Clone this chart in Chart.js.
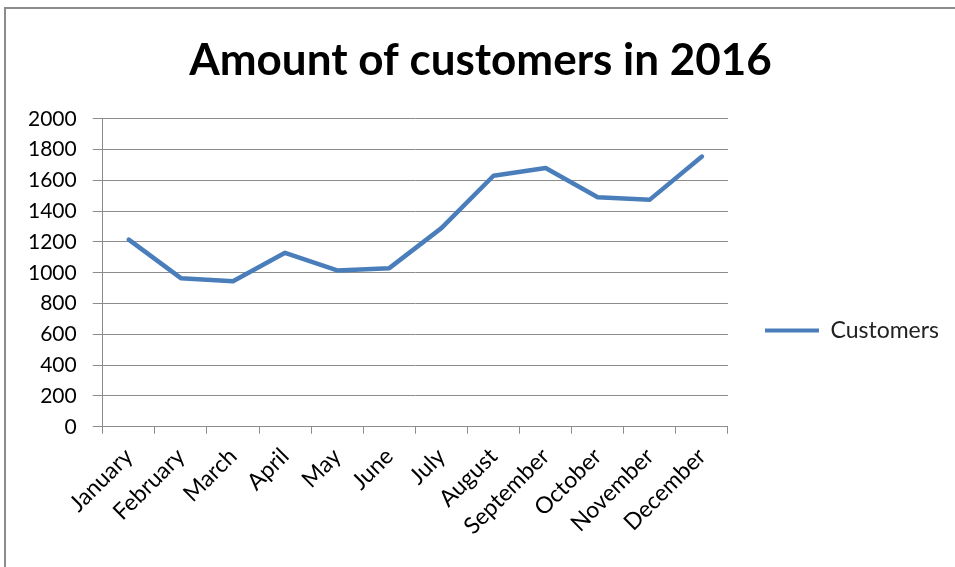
<!DOCTYPE html>
<html>
<head>
<meta charset="utf-8">
<script src="https://cdn.jsdelivr.net/npm/chart.js@4/dist/chart.umd.min.js"></script>
<style>
  html, body { margin: 0; padding: 0; background: #fff; }
  #wrap {
    position: absolute;
    left: 4px;
    top: 7px;
    width: 960px;
    height: 570px;
    border: 2px solid #8c8c8c;
  }
  #box { position: absolute; left: 0; top: 0; width: 955px; height: 567px; }
</style>
</head>
<body>
<div id="wrap"></div>
<div id="box"><canvas id="customersChart"></canvas></div>
<script>
const months = ["January", "February", "March", "April", "May", "June",
  "July", "August", "September", "October", "November", "December"];
const customers = [1215, 965, 945, 1130, 1015, 1030, 1290, 1630, 1680, 1490, 1475, 1755];
const seriesName = "Customers";
const chartTitle = "Amount of customers in 2016";
const yMin = 0;
const yMax = 2000;
const yStep = 200;

const lineBlue = "#4a7ebb";
const gridGrey = "#8c8c8c";
const fontFamily = "Lato, 'Open Sans', sans-serif";

// push the legend a bit lower than the plot centre
const legendDrop = {
  id: "legendDrop",
  afterLayout(chart) {
    const legend = chart.legend;
    if (!legend) return;
    legend.top += 56;
    legend.bottom += 56;
  }
};

const ctx = document.getElementById("customersChart").getContext("2d");

new Chart(ctx, {
  type: "line",
  data: {
    labels: months,
    datasets: [{
      label: seriesName,
      data: customers,
      borderColor: lineBlue,
      backgroundColor: lineBlue,
      borderWidth: 4.5,
      pointRadius: 0,
      tension: 0,
      borderCapStyle: "round",
      borderJoinStyle: "round"
    }]
  },
  plugins: [legendDrop],
  options: {
    responsive: true,
    maintainAspectRatio: false,
    animation: false,
    layout: {
      padding: { left: 12, right: 6, top: 0, bottom: 18 }
    },
    plugins: {
      title: {
        display: true,
        text: chartTitle,
        color: "#000",
        font: { family: fontFamily, size: 44, weight: "bold" },
        padding: { top: 34, bottom: 32 }
      },
      legend: {
        position: "right",
        maxWidth: 230,
        labels: {
          color: "#222",
          font: { family: fontFamily, size: 23 },
          boxWidth: 54,
          boxHeight: 4,
          padding: 10,
          generateLabels(chart) {
            const items = Chart.defaults.plugins.legend.labels.generateLabels(chart);
            items.forEach(item => { item.lineWidth = 0; item.fillStyle = lineBlue; });
            return items;
          }
        }
      },
      tooltip: { enabled: false }
    },
    scales: {
      x: {
        offset: true,
        grid: {
          offset: true,
          drawOnChartArea: false,
          drawTicks: true,
          tickLength: 7,
          color: gridGrey
        },
        border: { color: gridGrey, width: 1 },
        ticks: {
          color: "#000",
          font: { family: fontFamily, size: 23 },
          minRotation: 45,
          maxRotation: 45,
          autoSkip: false,
          padding: 9
        }
      },
      y: {
        min: yMin,
        max: yMax,
        grid: {
          color: gridGrey,
          tickLength: 10
        },
        border: { color: gridGrey, width: 1 },
        ticks: {
          stepSize: yStep,
          color: "#000",
          font: { family: fontFamily, size: 21 },
          padding: 16,
          callback: value => String(value)
        }
      },
      // empty axis on the right, only keeps space between plot and legend
      gap: {
        type: "linear",
        position: "right",
        grid: { display: false },
        border: { display: false },
        ticks: { display: false },
        afterFit(scale) { scale.width = 27; }
      }
    }
  }
});
</script>
</body>
</html>
